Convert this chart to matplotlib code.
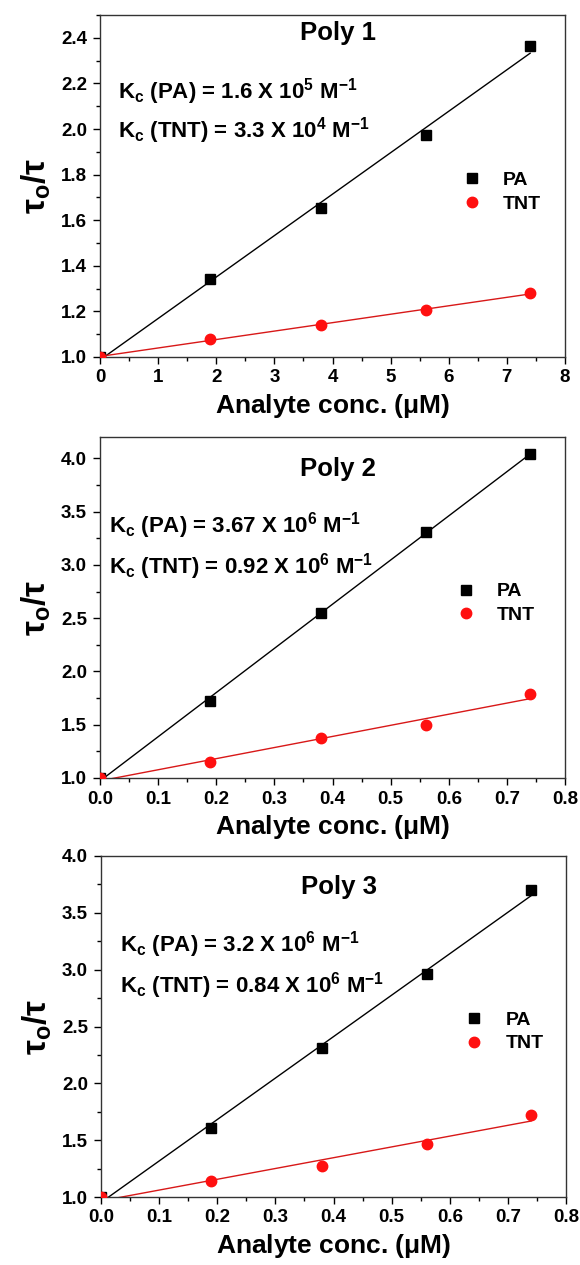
import numpy as np
import matplotlib
matplotlib.use("Agg")
import matplotlib.pyplot as plt

plt.rcParams['font.family'] = ['Liberation Sans', 'DejaVu Sans']
plt.rcParams['font.weight'] = 'bold'
plt.rcParams['mathtext.fontset'] = 'custom'
plt.rcParams['mathtext.rm'] = 'Liberation Sans:bold'
plt.rcParams['mathtext.it'] = 'Liberation Sans:bold'
plt.rcParams['mathtext.bf'] = 'Liberation Sans:bold'
plt.rcParams['mathtext.default'] = 'rm'

# ---- data ----
x_poly1 = [0.0, 1.9, 3.8, 5.6, 7.4]
pa_poly1 = [1.0, 1.34, 1.655, 1.975, 2.365]
tnt_poly1 = [1.0, 1.08, 1.14, 1.205, 1.28]

x_poly23 = [0.0, 0.19, 0.38, 0.56, 0.74]
pa_poly2 = [1.0, 1.72, 2.545, 3.31, 4.04]
tnt_poly2 = [1.0, 1.15, 1.375, 1.50, 1.79]

pa_poly3 = [1.0, 1.61, 2.31, 2.96, 3.70]
tnt_poly3 = [1.0, 1.145, 1.275, 1.465, 1.72]

titles = ["Poly 1", "Poly 2", "Poly 3"]
kc_pa = [r"K$_{c}$ (PA) = 1.6 X 10$^{5}$ M$^{-1}$",
         r"K$_{c}$ (PA) = 3.67 X 10$^{6}$ M$^{-1}$",
         r"K$_{c}$ (PA) = 3.2 X 10$^{6}$ M$^{-1}$"]
kc_tnt = [r"K$_{c}$ (TNT) = 3.3 X 10$^{4}$ M$^{-1}$",
          r"K$_{c}$ (TNT) = 0.92 X 10$^{6}$ M$^{-1}$",
          r"K$_{c}$ (TNT) = 0.84 X 10$^{6}$ M$^{-1}$"]

W, H = 580, 1265
fig = plt.figure(figsize=(W/100, H/100), dpi=100)

panels = [
    dict(x=x_poly1, pa=pa_poly1, tnt=tnt_poly1, box=(100, 15, 565, 357),
         xlim=(0, 8), ylim=(1.0, 2.5), xt=np.arange(0, 9, 1), yt=np.arange(1.0, 2.41, 0.2),
         xfmt="{:.0f}", yfmt="{:.1f}", title_y=0.946, k_x=0.039, k_y=(0.757, 0.643),
         leg_x=0.775, leg_y=0.482),
    dict(x=x_poly23, pa=pa_poly2, tnt=tnt_poly2, box=(100, 437, 565, 778),
         xlim=(0, 0.8), ylim=(1.0, 4.2), xt=np.arange(0, 0.81, 0.1), yt=np.arange(1.0, 4.01, 0.5),
         xfmt="{:.1f}", yfmt="{:.1f}", title_y=0.906, k_x=0.019, k_y=(0.721, 0.601),
         leg_x=0.761, leg_y=0.512),
    dict(x=x_poly23, pa=pa_poly3, tnt=tnt_poly3, box=(101, 856, 566, 1197),
         xlim=(0, 0.8), ylim=(1.0, 4.0), xt=np.arange(0, 0.81, 0.1), yt=np.arange(1.0, 4.01, 0.5),
         xfmt="{:.1f}", yfmt="{:.1f}", title_y=0.908, k_x=0.04, k_y=(0.721, 0.601),
         leg_x=0.778, leg_y=0.484),
]

for i, p in enumerate(panels):
    l, t, r, b = p['box']
    ax = fig.add_axes([l/W, 1 - b/H, (r-l)/W, (b-t)/H])
    x = np.array(p['x'])
    pa = np.array(p['pa'])
    tnt = np.array(p['tnt'])
    # linear fits
    xf = np.linspace(0, x.max(), 50)
    c_pa = np.polyfit(x, pa, 1)
    c_tnt = np.polyfit(x, tnt, 1)
    ax.plot(xf, np.polyval(c_pa, xf), color='black', lw=1.0, zorder=2)
    ax.plot(xf, np.polyval(c_tnt, xf), color='#d81818', lw=1.0, zorder=2)
    ax.plot(x, pa, 's', color='black', ms=7, label='PA', zorder=3)
    ax.plot(x, tnt, 'o', color='#ff1010', ms=7.5, label='TNT', zorder=3)

    ax.set_xlim(*p['xlim'])
    ax.set_ylim(*p['ylim'])
    ax.set_xticks(p['xt'])
    ax.set_xticklabels([p['xfmt'].format(v) for v in p['xt']])
    ax.set_yticks(p['yt'])
    ax.set_yticklabels([p['yfmt'].format(v) for v in p['yt']])
    xstep = p['xt'][1] - p['xt'][0]
    ystep = p['yt'][1] - p['yt'][0]
    ax.set_xticks(np.arange(p['xlim'][0], p['xlim'][1] + 1e-9, xstep/2), minor=True)
    ax.set_yticks(np.arange(p['ylim'][0], p['ylim'][1] + 1e-9, ystep/2), minor=True)
    ax.tick_params(axis='x', which='major', pad=4)
    ax.tick_params(axis='y', which='major', pad=4.3)
    ax.tick_params(which='major', direction='out', length=5, width=1.0, labelsize=13.5,
                   top=False, right=False)
    ax.tick_params(which='minor', direction='out', length=3, width=1.0,
                   top=False, right=False)
    for lab in ax.get_xticklabels() + ax.get_yticklabels():
        lab.set_fontweight('bold')
    for s in ax.spines.values():
        s.set_linewidth(1.0)
        s.set_color('#333333')

    ax.set_xlabel(r"Analyte conc. ($\mathregular{\mu}$M)", fontsize=19, fontweight='bold', labelpad=4.3)
    ax.set_ylabel(r"$\tau_{o}/\tau$", fontsize=24, labelpad=6)

    ax.text(0.512, p['title_y'], titles[i], transform=ax.transAxes, ha='center', va='center',
            fontsize=18.5, fontweight='bold')
    ax.text(p['k_x'], p['k_y'][0], kc_pa[i], transform=ax.transAxes, ha='left', va='baseline',
            fontsize=16, fontweight='bold')
    ax.text(p['k_x'], p['k_y'][1], kc_tnt[i], transform=ax.transAxes, ha='left', va='baseline',
            fontsize=16, fontweight='bold')
    ax.legend(loc='center left', bbox_to_anchor=(p['leg_x'], p['leg_y']), frameon=False,
              prop={'size': 14, 'weight': 'bold'}, handlelength=1.2, handletextpad=1.0,
              labelspacing=0.3, borderpad=0, borderaxespad=0)

fig.savefig("out.png", dpi=100)
